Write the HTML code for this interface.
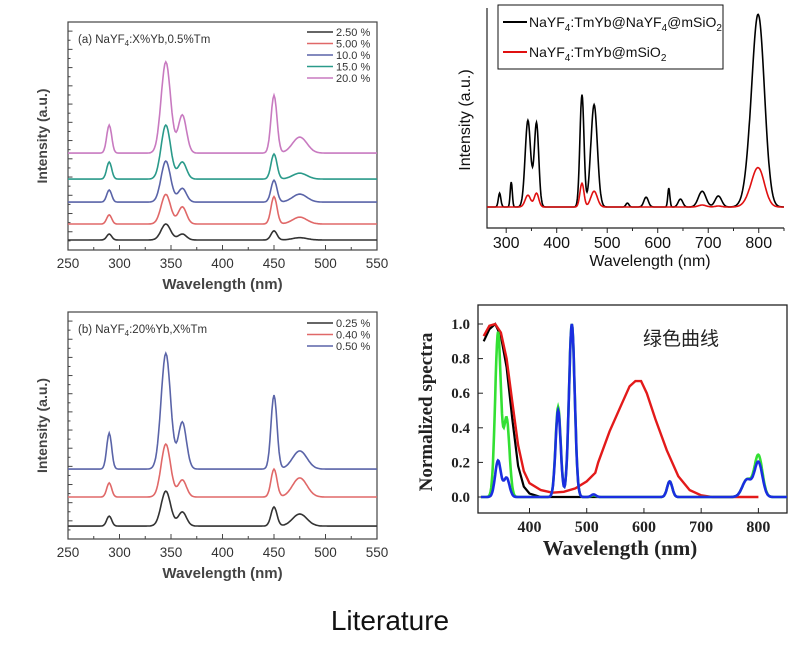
<!DOCTYPE html>
<html><head><meta charset="utf-8"><style>
html,body{margin:0;padding:0;background:#fff;width:790px;height:646px;overflow:hidden}
svg{display:block}
</style></head><body>
<svg id="root" width="790" height="646" xmlns="http://www.w3.org/2000/svg">
<text x="390" y="630" text-anchor="middle" font-family="Liberation Sans, sans-serif" font-size="28" fill="#111">Literature</text>
</svg>
<script>
// ===== Panel (a) data =====
const aPeaks=[290,345,361,450,475];
const aWidths=[2.4,4.6,4,2.9,7];
const aLabels=['2.50 %','5.00 %','10.0 %','15.0 %','20.0 %'];
const aOffsets=[4.4,11.4,21,31.1,42.5];
const aH0=[2.6,7,2.6,4,1];
const aH1=[4,13,7.5,12,3];
const aH2=[5.3,18,6,9.6,3.5];
const aH3=[7.5,23.7,7.5,11,2.6];
const aH4=[12.3,40,16.7,25.4,7];
const aColors=['#333','#e06868','#5a64a8','#2a9a8a','#c87ac0'];
const abXTicks=[250,300,350,400,450,500,550];
// ===== Panel (b) data =====
const bLabels=['0.25 %','0.40 %','0.50 %'];
const bOffsets=[5.7,18.5,30.8];
const bH0=[4.4,15.4,6.2,8.4,5.3];
const bH1=[6.2,23.3,7.5,12.3,8.4];
const bH2=[15.9,51,20.7,32.6,8];
const bColors=['#333','#e06868','#5a64a8'];
// ===== Panel (c) data =====
const cPeaks=[287,310,343,360,450,474,540,577,622,645,688,720,785,800];
const cWidths=[2.5,2,5.5,4.5,4,6.5,3,4.5,2,4.5,7.5,6.5,12,12];
const cBlack=[7,12.7,44,42.6,57,52,2,5,9.6,4,8,5.6,16,90];
const cRed=[0,0,6,7,12,8,0,0,0,0,1,0.5,4,18];
const cXTicks=[300,400,500,600,700,800];
// ===== Panel (d) data =====
const dBlackX=[320,330,340,350,360,370,380,390,400,420,520];
const dBlackY=[0.9,0.97,1.0,0.93,0.75,0.45,0.18,0.06,0.02,0,0];
const dRedX=[320,330,340,350,360,370,380,390,400,420,440,460,480,500,515,520,540,560,575,585,595,605,620,640,660,680,700,720,800];
const dRedY=[0.93,0.99,1.0,0.95,0.8,0.55,0.3,0.15,0.08,0.04,0.025,0.03,0.05,0.09,0.14,0.2,0.38,0.53,0.64,0.67,0.67,0.6,0.45,0.27,0.12,0.04,0.01,0,0];
const dPeaks=[345,360,450,474,512,645,780,800];
const dWidths=[5,5,4.5,5,4,4.5,8,7];
const dGreen=[0.95,0.45,0.52,1.0,0.01,0.09,0.1,0.24];
const dBlue=[0.21,0.11,0.5,1.0,0.015,0.09,0.1,0.2];
const dXTicks=[400,500,600,700,800];
const dYTicks=[0,0.2,0.4,0.6,0.8,1.0];
const dYLabels=['0.0','0.2','0.4','0.6','0.8','1.0'];

const NS='http://www.w3.org/2000/svg';
const root=document.getElementById('root');
function mk(tag,attrs,parent){const e=document.createElementNS(NS,tag);for(const k in attrs)e.setAttribute(k,attrs[k]);(parent||root).appendChild(e);return e;}
function lin(d0,d1,r0,r1){return v=>r0+(v-d0)/(d1-d0)*(r1-r0);}
function spectrum(xmin,xmax,step,off,peaks,widths,heights){
  const pts=[];for(let x=xmin;x<=xmax;x+=step){let y=off;for(let i=0;i<peaks.length;i++){y+=heights[i]*Math.exp(-0.5*Math.pow((x-peaks[i])/widths[i],2));}pts.push([x,y]);}return pts;}
function pathOf(pts,sx,sy){return pts.map((p,i)=>(i?'L':'M')+sx(p[0]).toFixed(1)+' '+sy(p[1]).toFixed(1)).join(' ');}
const SANS='Liberation Sans, sans-serif', SERIF='Liberation Serif, serif';

function stackPanel(name,top,bottom,labels,offsets,heights,colors,title,legendY){
  const L=68,R=377;
  const sx=lin(250,550,L,R), sy=lin(0,100,bottom,top);
  const g=mk('g',{});
  
  
  const fr=mk('rect',{x:L,y:top,width:R-L,height:bottom-top,fill:'none',stroke:'#444','stroke-width':1.2},g);
  
  
  for(let v=250;v<=550;v+=25){const x=sx(v);const t=mk('line',{x1:x,x2:x,y1:bottom,y2:bottom-(v%50?3:5),stroke:'#444'},g);
    
    }
  for(let v=0;v<=100;v+=4){const y=sy(v);if(y<top)continue;const t=mk('line',{x1:L,x2:L+(v%8?2.5:4.5),y1:y,y2:y,stroke:'#444'},g);
    
    }
  abXTicks.forEach(v=>{const t=mk('text',{x:sx(v),y:bottom+18,'text-anchor':'middle','font-family':SANS,'font-size':13.5,fill:'#333'},g);t.textContent=v;
    
    });
  const xt=mk('text',{x:(L+R)/2,y:bottom+39,'text-anchor':'middle','font-family':SANS,'font-size':15,'font-weight':'bold',fill:'#444'},g);xt.textContent='Wavelength (nm)';
  
  
  const yt=mk('text',{transform:`translate(47,${(top+bottom)/2}) rotate(-90)`,'text-anchor':'middle','font-family':SANS,'font-size':14,'font-weight':'bold',fill:'#444'},g);yt.textContent='Intensity (a.u.)';
  
  
  labels.forEach((lab,i)=>{
    const p=mk('path',{d:pathOf(spectrum(250,550,1,offsets[i],aPeaks,aWidths,heights[i]),sx,sy),fill:'none',stroke:colors[i],'stroke-width':1.6},g);
    
    
    const y=legendY+i*11.5;
    const ll=mk('line',{x1:307,x2:333,y1:y,y2:y,stroke:colors[i],'stroke-width':1.6},g);
    
    
    const lt=mk('text',{x:336,y:y+4,'font-family':SANS,'font-size':11,fill:'#333'},g);lt.textContent=lab;
    
    
  });
  const tt=mk('text',{x:78,y:top+21,'font-family':SANS,'font-size':11.5,fill:'#333'},g);
  tt.innerHTML=title;
  
  
}
stackPanel('panel-a',22,250,aLabels,aOffsets,[aH0,aH1,aH2,aH3,aH4],aColors,'(a) NaYF<tspan font-size="8" dy="3">4</tspan><tspan dy="-3">:X%Yb,0.5%Tm</tspan>',32);
stackPanel('panel-b',312,539,bLabels,bOffsets,[bH0,bH1,bH2],bColors,'(b) NaYF<tspan font-size="8" dy="3">4</tspan><tspan dy="-3">:20%Yb,X%Tm</tspan>',323);

// ===== Panel (c) =====
(function(){
  const L=487,R=784,B=228;
  const sx=lin(262,850,L,R), sy=lin(0,100,207,10);
  const g=mk('g',{});
  
  
  const ax=mk('path',{d:`M${L} 8 L${L} ${B} L${R} ${B}`,fill:'none',stroke:'#222','stroke-width':1.2},g);
  
  
  for(let v=300;v<=850;v+=50){const x=sx(v);const t=mk('line',{x1:x,x2:x,y1:B,y2:B+(v%100?3:5),stroke:'#222'},g);
    
    }
  cXTicks.forEach(v=>{const t=mk('text',{x:sx(v),y:B+20,'text-anchor':'middle','font-family':SANS,'font-size':16,fill:'#111'},g);t.textContent=v;
    
    });
  const xt=mk('text',{x:650,y:266,'text-anchor':'middle','font-family':SANS,'font-size':16,fill:'#111'},g);xt.textContent='Wavelength (nm)';
  
  
  const yt=mk('text',{transform:'translate(470,120) rotate(-90)','text-anchor':'middle','font-family':SANS,'font-size':16,fill:'#111'},g);yt.textContent='Intensity (a.u.)';
  
  
  const pb=mk('path',{d:pathOf(spectrum(262,850,1,0,cPeaks,cWidths,cBlack),sx,sy),fill:'none',stroke:'#000','stroke-width':1.6},g);
  
  
  const pr=mk('path',{d:pathOf(spectrum(262,850,1,0,cPeaks,cWidths,cRed),sx,sy),fill:'none',stroke:'#e01010','stroke-width':1.6},g);
  
  
  const lb=mk('rect',{x:498,y:5,width:225,height:64,fill:'#fff',stroke:'#111','stroke-width':1},g);
  
  
  [['#000','NaYF<tspan font-size="10" dy="4">4</tspan><tspan dy="-4">:TmYb@NaYF</tspan><tspan font-size="10" dy="4">4</tspan><tspan dy="-4">@mSiO</tspan><tspan font-size="10" dy="4">2</tspan>',22],['#e01010','NaYF<tspan font-size="10" dy="4">4</tspan><tspan dy="-4">:TmYb@mSiO</tspan><tspan font-size="10" dy="4">2</tspan>',52]].forEach(([c,t,y])=>{
    const l=mk('line',{x1:503,x2:527,y1:y,y2:y,stroke:c,'stroke-width':2},g);
    
    
    const tx=mk('text',{x:529,y:y+5,'font-family':SANS,'font-size':14,fill:'#111'},g);tx.innerHTML=t;
    
    
  });
})();

// ===== Panel (d) =====
(function(){
  const L=478,R=787,T=305,B=513;
  const sx=lin(310,850,L,R), sy=lin(0,1,497,324);
  const g=mk('g',{});
  
  
  const fr=mk('rect',{x:L,y:T,width:R-L,height:B-T,fill:'none',stroke:'#222','stroke-width':1.3},g);
  
  
  dXTicks.forEach(v=>{const x=sx(v);const t=mk('line',{x1:x,x2:x,y1:B,y2:B-5,stroke:'#222'},g);
    
    
    const l=mk('text',{x:x,y:B+19,'text-anchor':'middle','font-family':SERIF,'font-size':16,'font-weight':'bold',fill:'#222'},g);l.textContent=v;
    
    });
  dYTicks.forEach((v,i)=>{const y=sy(v);const t=mk('line',{x1:L,x2:L+5,y1:y,y2:y,stroke:'#222'},g);
    
    
    const l=mk('text',{x:L-8,y:y+5,'text-anchor':'end','font-family':SERIF,'font-size':15,'font-weight':'bold',fill:'#222'},g);l.textContent=dYLabels[i];
    
    });
  const xt=mk('text',{x:620,y:555,'text-anchor':'middle','font-family':SERIF,'font-size':21,'font-weight':'bold',fill:'#222'},g);xt.textContent='Wavelength (nm)';
  
  
  const yt=mk('text',{transform:'translate(432,412) rotate(-90)','text-anchor':'middle','font-family':SERIF,'font-size':19,'font-weight':'bold',fill:'#222'},g);yt.textContent='Normalized spectra';
  
  
  const cn=mk('text',{x:643,y:345,'font-family':'Liberation Sans, Noto Sans CJK SC, sans-serif','font-size':19,fill:'#222'},g);cn.textContent='绿色曲线';
  
  
  const pbk=mk('path',{d:pathOf(dBlackX.map((x,i)=>[x,dBlackY[i]]),sx,sy),fill:'none',stroke:'#000','stroke-width':2.2},g);
  
  
  const prd=mk('path',{d:pathOf(dRedX.map((x,i)=>[x,dRedY[i]]),sx,sy),fill:'none',stroke:'#e31a1a','stroke-width':2.4},g);
  
  
  const pg=mk('path',{d:pathOf(spectrum(315,850,1,0,dPeaks,dWidths,dGreen),sx,sy),fill:'none',stroke:'#33e033','stroke-width':2.6},g);
  
  
  const pbl=mk('path',{d:pathOf(spectrum(315,850,1,0,dPeaks,dWidths,dBlue),sx,sy),fill:'none',stroke:'#1a2ee0','stroke-width':2.6},g);
  
  
})();
</script>
</body></html>
